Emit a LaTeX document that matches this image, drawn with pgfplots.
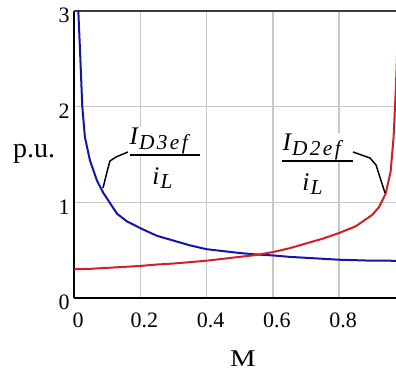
\documentclass[border=0pt]{standalone}
\usepackage{pgfplots}
\pgfplotsset{compat=1.18}
\usepackage{fontspec}
\setmainfont{Liberation Serif}

\definecolor{curveblue}{RGB}{20,20,170}
\definecolor{curvered}{RGB}{212,30,36}
\definecolor{gridgray}{RGB}{200,200,200}
\definecolor{framegray}{RGB}{60,60,60}

% spaced italic subscript letters
\newcommand{\subtxt}[1]{{\fontsize{16pt}{18pt}\selectfont\itshape #1}}
\newcommand{\gap}{\kern1.8pt}
\newcommand{\fracfont}{\fontsize{19pt}{21pt}\selectfont}

\begin{document}
\begin{tikzpicture}[x=0.75pt,y=0.75pt]
\useasboundingbox (0,0) rectangle (396,374);
\begin{axis}[
  at={(55.5pt,57pt)}, anchor=south west,
  scale only axis, width=241.5pt, height=215.25pt,
  xmin=0, xmax=0.9713, ymin=0, ymax=3,
  axis x line*=bottom, axis y line*=left,
  axis line style={line width=1.5pt, black, -},
  xtick={0,0.2,0.4,0.6,0.8}, ytick={0,1,2,3},
  major tick length=0pt,
  grid=major,
  grid style={gridgray, line width=1.1pt},
  tick label style={font=\fontsize{16.5pt}{18pt}\selectfont, inner sep=0pt},
  xticklabel style={anchor=base, yshift=-22.5pt, xshift=3pt},
  yticklabel style={anchor=base east, yshift=-9pt, xshift=-3pt},
  /pgf/number format/.cd, fixed, precision=1, assume math mode=true,
  /pgfplots/.cd,
  clip mode=individual,
]
% frame line along the top of the plot area
\draw[framegray, line width=1.5pt] (rel axis cs:0,1) -- (rel axis cs:1,1);

% I_D3ef / i_L
\addplot[curveblue, line width=1.5pt] coordinates {
  (0.010,3.30) (0.013,3.00) (0.018,2.60) (0.025,2.00) (0.033,1.68)
  (0.048,1.44) (0.069,1.23) (0.088,1.10) (0.109,0.99) (0.130,0.88)
  (0.160,0.80) (0.200,0.73) (0.250,0.65) (0.300,0.60) (0.350,0.55)
  (0.400,0.51) (0.450,0.49) (0.500,0.47) (0.550,0.455) (0.600,0.445)
  (0.650,0.43) (0.700,0.42) (0.750,0.41) (0.800,0.40) (0.850,0.395)
  (0.900,0.39) (0.950,0.39) (1.000,0.385)
};
% I_D2ef / i_L
\addplot[curvered, line width=1.5pt] coordinates {
  (0.00,0.300) (0.05,0.305) (0.10,0.315) (0.15,0.325) (0.20,0.335)
  (0.25,0.350) (0.30,0.360) (0.35,0.375) (0.40,0.390) (0.45,0.410)
  (0.50,0.430) (0.55,0.450) (0.60,0.480) (0.65,0.520) (0.70,0.570)
  (0.75,0.620) (0.80,0.680) (0.85,0.750) (0.875,0.810) (0.90,0.870)
  (0.92,0.950) (0.94,1.090) (0.955,1.320) (0.964,1.680) (0.971,2.200)
  (0.976,2.700)
};
\end{axis}

% axis labels
\node[anchor=base, inner sep=0pt, font=\fontsize{21pt}{24pt}\selectfont] at (34,216) {p.u.};
\node[anchor=base, inner sep=0pt, font=\fontsize{18pt}{20pt}\selectfont] at (243,7) {\scalebox{1.2}[1]{M}};

% label for the blue curve
\draw[black, line width=1.1pt] (128,222) -- (116,217) -- (110,213) -- (108,206) -- (103,186);
\node[anchor=base west, fill=white, inner sep=1pt, font=\fracfont] at (128,229)
  {\textit{I}\raisebox{-3.5pt}{\subtxt{D\gap 3\gap e\gap f}}};
\draw[black, line width=1.2pt] (130,219) -- (200,219);
\node[anchor=base west, inner sep=0pt, font=\fracfont] at (152,189)
  {\textit{i}\kern1pt\raisebox{-2.5pt}{\subtxt{L}}};

% label for the red curve
\draw[black, line width=1.1pt] (353,222) -- (370,216) -- (376,209) -- (385,181);
\node[anchor=base west, fill=white, inner sep=1pt, font=\fracfont] at (281,223)
  {\textit{I}\raisebox{-3.5pt}{\subtxt{D\gap 2\gap e\gap f}}};
\draw[black, line width=1.2pt] (282,213) -- (353,213);
\node[anchor=base west, inner sep=0pt, font=\fracfont] at (302,183)
  {\textit{i}\kern1pt\raisebox{-2.5pt}{\subtxt{L}}};
\end{tikzpicture}
\end{document}
